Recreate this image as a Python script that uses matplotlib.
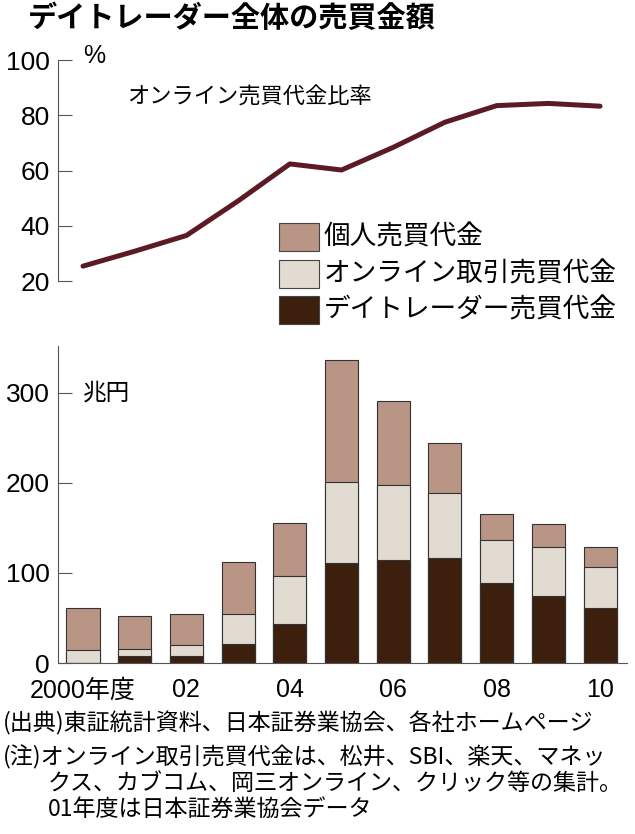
import matplotlib
matplotlib.use('Agg')
import matplotlib.pyplot as plt
from matplotlib import font_manager
import numpy as np

# data
years = [2000, 2001, 2002, 2003, 2004, 2005, 2006, 2007, 2008, 2009, 2010]
online_ratio = [25.4, 30.8, 36.5, 49.0, 62.4, 60.2, 68.4, 77.5, 83.5, 84.3, 83.3]
individual = [61, 52, 54, 112, 156, 337, 291, 244, 165, 154, 129]
online = [15, 16, 20, 55, 97, 201, 198, 189, 137, 129, 107]
daytrader = [0, 7.4, 8.2, 21, 43, 111, 114.6, 116.5, 89, 74.4, 61.4]
xtick_labels = ['2000年度', '02', '04', '06', '08', '10']

names = {f.name for f in font_manager.fontManager.ttflist}
num_font = 'Liberation Sans Narrow' if 'Liberation Sans Narrow' in names else 'Liberation Sans'
jp = ['Noto Sans CJK JP', 'DejaVu Sans']
mixed = [num_font, 'Noto Sans CJK JP']
plt.rcParams['font.family'] = jp

c_line = '#5c1a24'
c_ind = '#b99585'
c_onl = '#e2dbd1'
c_day = '#3c200d'
c_axis = '#555555'

fig = plt.figure(figsize=(6.35, 8.34), dpi=100)
x = np.arange(len(years))
xlim = (-0.484, 10.52)

fig.text(0.044, 0.978, 'デイトレーダー全体の売買金額', fontsize=21, fontweight='bold',
         va='center', ha='left')

# line chart
ax1 = fig.add_axes([0.0913, 0.663, 0.896, 0.265])
ax1.plot(x, online_ratio, color=c_line, lw=3.6, solid_joinstyle='round', solid_capstyle='round')
ax1.set_xlim(*xlim)
ax1.set_ylim(20, 100)
ax1.set_yticks([20, 40, 60, 80, 100])
for s in ['top', 'right', 'bottom']:
    ax1.spines[s].set_visible(False)
ax1.spines['left'].set_color(c_axis)
ax1.tick_params(axis='y', direction='in', length=10, color=c_axis, pad=6)
ax1.set_xticks([])
for lab in ax1.get_yticklabels():
    lab.set_fontfamily(mixed)
    lab.set_fontsize(19)
ax1.text(0.0, 101.5, '%', fontsize=18, va='center', ha='left', family=mixed)
ax1.text(0.85, 86.5, 'オンライン売買代金比率', fontsize=16, va='center', ha='left')

# legend drawn as boxes in figure coords
leg_items = [('個人売買代金', c_ind), ('オンライン取引売買代金', c_onl), ('デイトレーダー売買代金', c_day)]
for i, (lab, col) in enumerate(leg_items):
    yc = 834 - (237 + i * 36.5)
    fig.patches.append(plt.Rectangle((279 / 635, (yc - 14) / 834), 40 / 635, 28 / 834,
                                     transform=fig.transFigure, facecolor=col,
                                     edgecolor='#444444', lw=0.8))
    fig.text(324 / 635, yc / 834, lab, fontsize=19.2, va='center', ha='left')

# bar chart
ax2 = fig.add_axes([0.0913, 0.205, 0.896, 0.380])
w = 0.64
ax2.bar(x, individual, w, color=c_ind, edgecolor='#333333', lw=0.8)
ax2.bar(x, online, w, color=c_onl, edgecolor='#333333', lw=0.8)
ax2.bar(x, daytrader, w, color=c_day, edgecolor='#333333', lw=0.8)
ax2.set_xlim(*xlim)
ax2.set_ylim(0, 352)
ax2.set_yticks([0, 100, 200, 300])
for s in ['top', 'right']:
    ax2.spines[s].set_visible(False)
ax2.spines['left'].set_color(c_axis)
ax2.spines['bottom'].set_color(c_axis)
ax2.tick_params(axis='y', direction='in', length=10, color=c_axis, pad=6)
ax2.set_xticks([0, 2, 4, 6, 8, 10])
ax2.set_xticklabels(xtick_labels)
ax2.tick_params(axis='x', length=0, pad=11)
for lab in ax2.get_yticklabels():
    lab.set_fontfamily(mixed)
    lab.set_fontsize(19)
for lab in ax2.get_xticklabels():
    lab.set_fontfamily(mixed)
    lab.set_fontsize(18)
ax2.get_xticklabels()[0].set_position((0.4, 0))
ax2.text(0.0, 300, '兆円', fontsize=17, va='center', ha='left')

notes = [
    (3, 723, '(出典)東証統計資料、日本証券業協会、各社ホームページ'),
    (3, 757, '(注)オンライン取引売買代金は、松井、SBI、楽天、マネッ'),
    (48, 783, 'クス、カブコム、岡三オンライン、クリック等の集計。'),
    (48, 809, '01年度は日本証券業協会データ'),
]
for px, py, t in notes:
    fig.text(px / 635, 1 - py / 834, t, fontsize=16.6, va='center', ha='left')

fig.savefig('out.png', dpi=100, facecolor='white')
